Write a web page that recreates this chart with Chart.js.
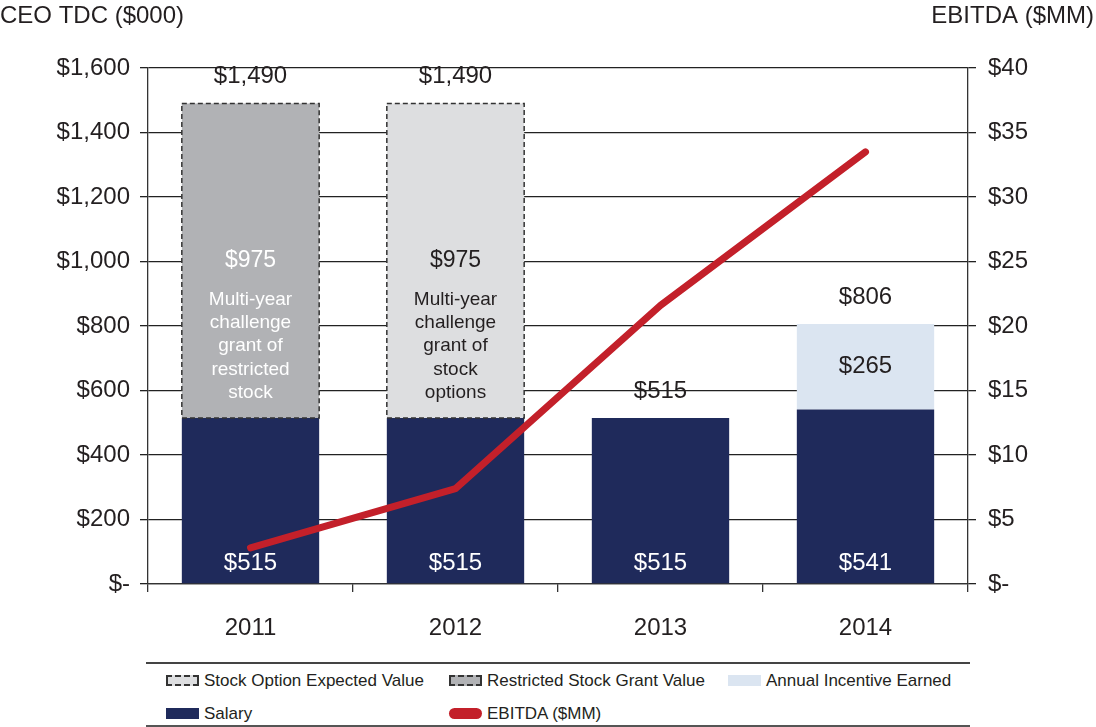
<!DOCTYPE html>
<html>
<head>
<meta charset="utf-8">
<script src="https://cdn.jsdelivr.net/npm/chart.js@4"></script>
<style>
  body { margin: 0; background: #fff; font-family: "Liberation Sans", Arial, sans-serif; }
  #wrap { position: relative; width: 1096px; height: 727px; }
  #chart { position: absolute; left: 0; top: 0; }
  #legend { position: absolute; left: 146px; top: 662px; width: 824px; height: 61px;
            border-top: 2px solid #444; border-bottom: 2px solid #555; }
  .item { position: absolute; font-size: 17px; color: #231f20; white-space: nowrap; line-height: 19px; }
  .sw { display: inline-block; width: 33px; height: 11px; vertical-align: 0px; margin-right: 5px; box-sizing: border-box; }
</style>
</head>
<body>
<div id="wrap">
  <canvas id="chart" width="1096" height="655"></canvas>
  <div id="legend"></div>
</div>
<script>
var years = ['2011', '2012', '2013', '2014'];
var salary = [515, 515, 515, 541];
var restrictedStock = [975, 0, 0, 0];
var stockOption = [0, 975, 0, 0];
var annualIncentive = [0, 0, 0, 265];
var ebitda = [2.8, 7.4, 21.6, 33.5];
var leftTicks = [0, 200, 400, 600, 800, 1000, 1200, 1400, 1600];
var rightTicks = [0, 5, 10, 15, 20, 25, 30, 35, 40];
var grantNotes = [
    ['Multi-year', 'challenge', 'grant of', 'restricted', 'stock'],
    ['Multi-year', 'challenge', 'grant of', 'stock', 'options'],
    [],
    []
];

var navy = '#1f2a5b';
var darkGray = '#b1b2b5';
var lightGray = '#dddee0';
var paleBlue = '#dbe5f1';
var red = '#c3202a';
var ink = '#231f20';
var font = '"Liberation Sans", Arial, sans-serif';

function money(v) {
    return v === 0 ? '$-' : '$' + v.toLocaleString('en-US');
}

// legend (html)
var legendItems = [
    { label: 'Stock Option Expected Value', style: 'background:' + lightGray + ';border:2px dashed #333', x: 20, y: 7 },
    { label: 'Restricted Stock Grant Value', style: 'background:' + darkGray + ';border:2px dashed #333', x: 303, y: 7 },
    { label: 'Annual Incentive Earned', style: 'background:' + paleBlue, x: 582, y: 7 },
    { label: 'Salary', style: 'background:' + navy, x: 20, y: 40 },
    { label: 'EBITDA ($MM)', style: 'background:' + red + ';border-radius:6px', x: 303, y: 40 }
];
var legendEl = document.getElementById('legend');
legendItems.forEach(function (it) {
    var d = document.createElement('div');
    d.className = 'item';
    d.style.left = it.x + 'px';
    d.style.top = it.y + 'px';
    d.innerHTML = '<span class="sw" style="' + it.style + '"></span>' + it.label;
    legendEl.appendChild(d);
});

var labelPlugin = {
    id: 'labels',
    afterDatasetsDraw: function (chart) {
        var ctx = chart.ctx;
        var salMeta = chart.getDatasetMeta(0);
        var rsMeta = chart.getDatasetMeta(1);
        var soMeta = chart.getDatasetMeta(2);
        var aiMeta = chart.getDatasetMeta(3);
        ctx.save();
        ctx.textAlign = 'center';
        ctx.textBaseline = 'middle';

        // dashed outlines for the grant segments
        [rsMeta, soMeta].forEach(function (meta, di) {
            var vals = di === 0 ? restrictedStock : stockOption;
            meta.data.forEach(function (bar, i) {
                if (!vals[i]) return;
                var l = bar.x - bar.width / 2, r = bar.x + bar.width / 2;
                ctx.save();
                ctx.strokeStyle = '#333';
                ctx.lineWidth = 1.5;
                ctx.setLineDash([5, 3]);
                ctx.strokeRect(l, bar.y, r - l, bar.base - bar.y);
                ctx.restore();
            });
        });

        years.forEach(function (y, i) {
            var total = salary[i] + restrictedStock[i] + stockOption[i] + annualIncentive[i];
            var topBar = salMeta.data[i];
            [rsMeta, soMeta, aiMeta].forEach(function (m) {
                if (m.data[i].y < topBar.y) topBar = m.data[i];
            });
            ctx.font = '24px ' + font;
            ctx.fillStyle = ink;
            ctx.fillText(money(total), topBar.x, topBar.y - 27);

            // salary inside
            var s = salMeta.data[i];
            ctx.fillStyle = '#fff';
            ctx.fillText(money(salary[i]), s.x, s.base - 20);

            // grant segment
            var grantVal = restrictedStock[i] || stockOption[i];
            if (grantVal) {
                var g = restrictedStock[i] ? rsMeta.data[i] : soMeta.data[i];
                var col = restrictedStock[i] ? '#fff' : ink;
                var cy = (g.y + g.base) / 2;
                ctx.fillStyle = col;
                ctx.font = '23px ' + font;
                ctx.fillText(money(grantVal), g.x, cy);
                ctx.font = '19px ' + font;
                grantNotes[i].forEach(function (line, k) {
                    ctx.fillText(line, g.x, cy + 39 + k * 23.2);
                });
            }
            if (annualIncentive[i]) {
                var a = aiMeta.data[i];
                ctx.fillStyle = ink;
                ctx.font = '24px ' + font;
                ctx.fillText(money(annualIncentive[i]), a.x, (a.y + a.base) / 2);
            }
        });

        // axis titles
        ctx.font = '24px ' + font;
        ctx.fillStyle = ink;
        ctx.textAlign = 'left';
        ctx.fillText('CEO TDC ($000)', 0, 16);
        ctx.textAlign = 'right';
        ctx.fillText('EBITDA ($MM)', 1094, 16);
        ctx.restore();
    }
};

var ctx = document.getElementById('chart').getContext('2d');
var chart = new Chart(ctx, {
    type: 'bar',
    data: {
        labels: years,
        datasets: [
            { label: 'Salary', data: salary, backgroundColor: navy, order: 1 },
            { label: 'Restricted Stock Grant Value', data: restrictedStock, backgroundColor: darkGray, order: 1 },
            { label: 'Stock Option Expected Value', data: stockOption, backgroundColor: lightGray, order: 1 },
            { label: 'Annual Incentive Earned', data: annualIncentive, backgroundColor: paleBlue, order: 1 },
            {
                type: 'line', label: 'EBITDA ($MM)', data: ebitda, yAxisID: 'y1',
                borderColor: red, borderWidth: 7, borderCapStyle: 'round', borderJoinStyle: 'round',
                pointRadius: 0, tension: 0, order: 0
            }
        ]
    },
    options: {
        responsive: false,
        animation: false,
        layout: { padding: { top: 68, left: 0, right: 0, bottom: 0 } },
        datasets: { bar: { barPercentage: 0.67, categoryPercentage: 1 } },
        plugins: { legend: { display: false }, tooltip: { enabled: false } },
        scales: {
            x: {
                stacked: true,
                grid: { drawOnChartArea: false, drawTicks: true, tickLength: 8, color: '#333', lineWidth: 1.3, offset: true },
                border: { display: true, color: '#333', width: 1.3 },
                ticks: { color: ink, font: { size: 24, family: font }, padding: 22 },
                afterFit: function (s) { s.height = 71; }
            },
            y: {
                stacked: true, min: 0, max: 1600,
                afterBuildTicks: function (s) { s.ticks = leftTicks.map(function (v) { return { value: v }; }); },
                grid: { color: '#222', lineWidth: 1.3, tickLength: 8 },
                border: { display: true, color: '#333', width: 1.3 },
                ticks: { color: ink, font: { size: 24, family: font }, padding: 10, callback: function (v) { return money(v); } },
                afterFit: function (s) { s.width = 148; }
            },
            y1: {
                position: 'right', min: 0, max: 40,
                afterBuildTicks: function (s) { s.ticks = rightTicks.map(function (v) { return { value: v }; }); },
                grid: { drawOnChartArea: false, color: '#222', lineWidth: 1.3, tickLength: 8 },
                border: { display: true, color: '#333', width: 1.3 },
                ticks: { color: ink, font: { size: 24, family: font }, padding: 12, callback: function (v) { return money(v); } },
                afterFit: function (s) { s.width = 128; }
            }
        }
    },
    plugins: [labelPlugin]
});
</script>
</body>
</html>
